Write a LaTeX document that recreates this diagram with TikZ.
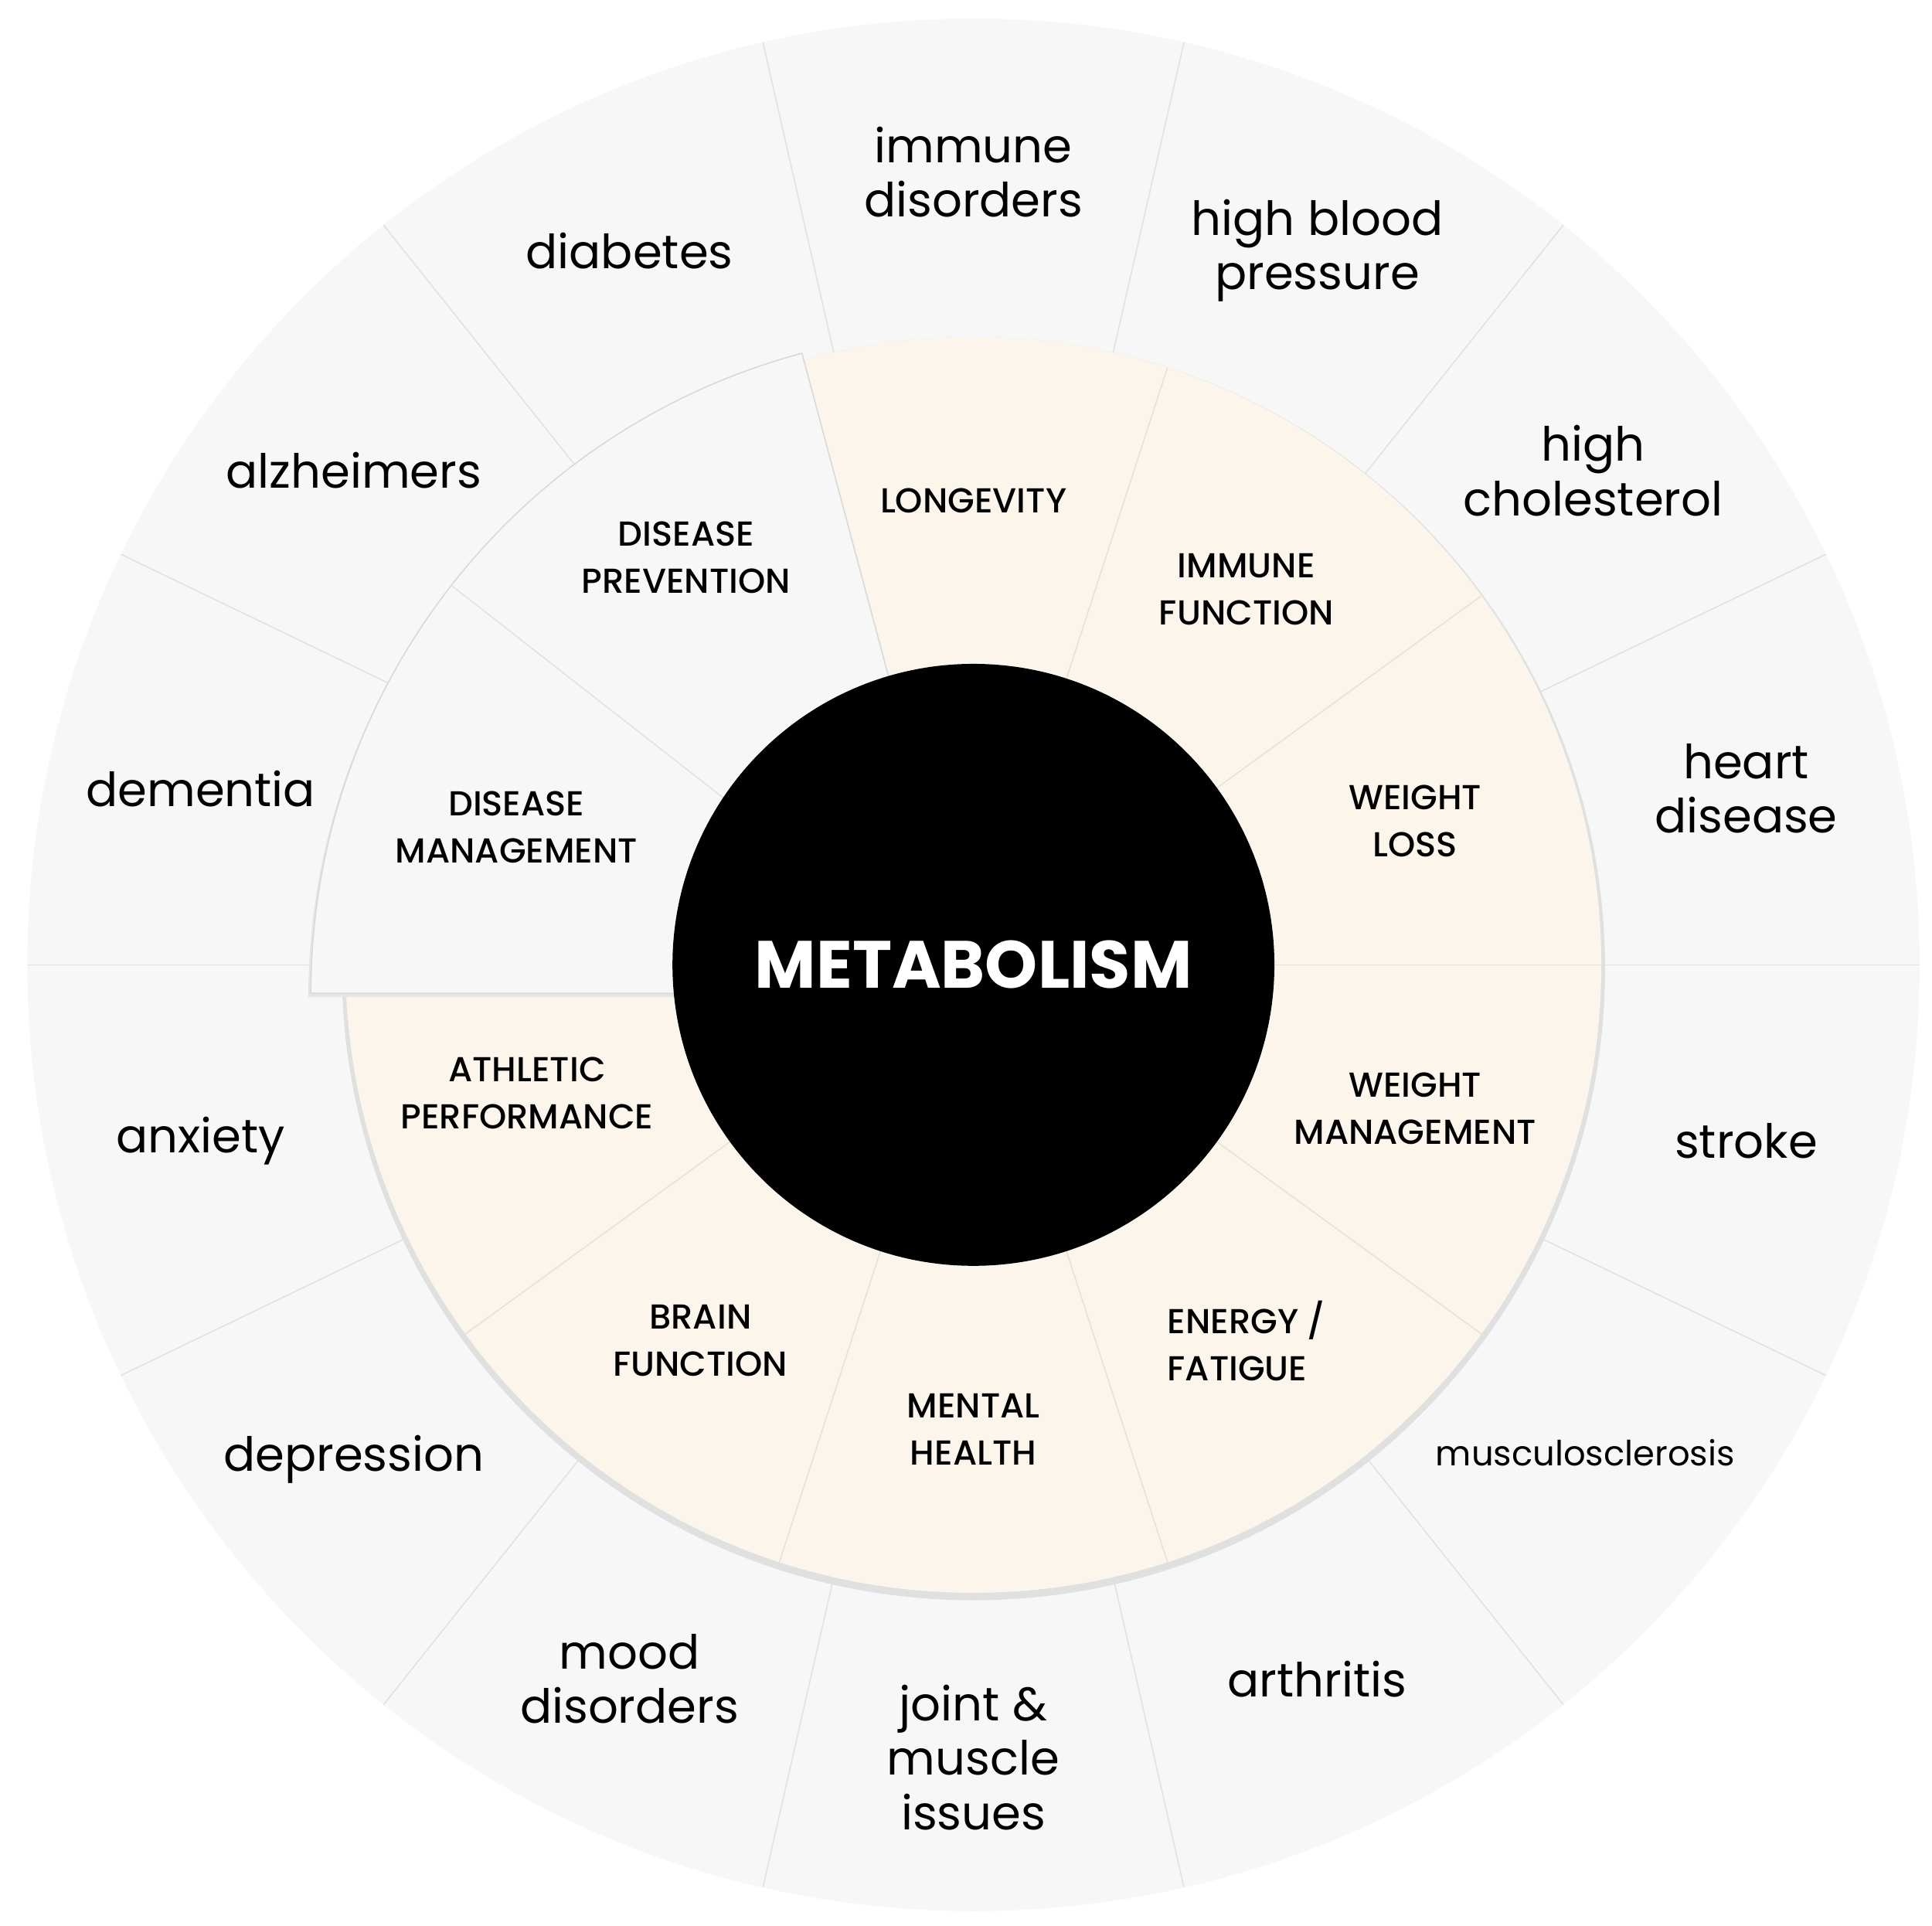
\documentclass[tikz,border=0pt]{standalone}
\usetikzlibrary{calc}
\usepackage{fontspec}
\setmainfont{Poppins}
\newfontfamily\popmed{Poppins Medium}
\newfontfamily\popbold{Poppins Bold}
\definecolor{outerfill}{HTML}{F7F7F7}
\definecolor{sepline}{HTML}{E2E2E2}
\definecolor{cream}{HTML}{FCF5EC}
\tikzset{
  outerlbl/.style={align=center,font=\fontsize{19}{22}\selectfont,text=black},
  innerlbl/.style={align=center,font=\popmed\fontsize{14}{19}\selectfont,text=black},
  sep/.style={draw=sepline,line width=0.5pt}
}
\begin{document}
\begin{tikzpicture}[x=0.5pt,y=0.5pt]
\useasboundingbox (0,0) rectangle (1560,1555);
\coordinate (C) at (786,776);
\coordinate (W) at (786,753);
% outer ring
\fill[outerfill] (C) circle[radius=764];
\foreach \i in {0,...,13}{
  \draw[sep] ($(C)+({\i*360/14}:507)$) -- ($(C)+({\i*360/14}:764)$);
}
% middle ring with shadow
\fill[black!12] ($(C)+(0,-3)$) circle[radius=510];
\fill[cream] (C) circle[radius=507];
\foreach \a in {0,36,72,108,144,180,216,252,288,324}{
  \draw[sep] ($(C)+(\a:243)$) -- ($(C)+(\a:507)$);
}
% popped wedge
\fill[black!10] ($(W)+(-2,-3)$) -- ++(180:535) arc[start angle=180,end angle=105,radius=535] -- cycle;
\fill[outerfill,draw=black!15,line width=0.5pt] (W) -- ++(180:535) arc[start angle=180,end angle=105,radius=535] -- cycle;
\draw[sep] ($(W)+(142:243)$) -- ($(W)+(142:535)$);
% centre
\node[circle,fill=black,minimum size=486*0.5pt,inner sep=0pt,text=white,font=\popbold\fontsize{27}{30}\selectfont] (centre) at (C) {METABOLISM};
% inner labels
\node[innerlbl] (longevity) at ($(C)+(90:375)$) {LONGEVITY};
\node[innerlbl] (immune) at ($(C)+(54:375)$) {IMMUNE\\FUNCTION};
\node[innerlbl] (wloss) at ($(C)+(18:375)$) {WEIGHT\\LOSS};
\node[innerlbl] (wmgmt) at ($(C)+(-18:375)$) {WEIGHT\\MANAGEMENT};
\node[innerlbl,align=left] (energy) at ($(C)+(-54:375)$) {ENERGY /\\FATIGUE};
\node[innerlbl] (mental) at ($(C)+(-90:375)$) {MENTAL\\HEALTH};
\node[innerlbl] (brain) at ($(C)+(-126:375)$) {BRAIN\\FUNCTION};
\node[innerlbl] (athletic) at ($(C)+(-164:375)$) {ATHLETIC\\PERFORMANCE};
\node[innerlbl] (dmgmt) at (417,887) {DISEASE\\MANAGEMENT};
\node[innerlbl] (dprev) at (554,1105) {DISEASE\\PREVENTION};
% outer labels
\def\st{25.714}
\node[outerlbl] (o1) at ($(C)+({0.5*\st}:640)$) {heart\\disease};
\node[outerlbl] (o2) at ($(C)+({1.5*\st}:640)$) {high\\cholesterol};
\node[outerlbl] (o3) at ($(C)+({2.5*\st}:640)$) {high blood\\pressure};
\node[outerlbl] (o4) at ($(C)+({3.5*\st}:640)$) {immune\\disorders};
\node[outerlbl] (o5) at ($(C)+({4.5*\st}:640)$) {diabetes};
\node[outerlbl] (o6) at ($(C)+({5.5*\st}:640)$) {alzheimers};
\node[outerlbl] (o7) at ($(C)+({6.5*\st}:640)$) {dementia};
\node[outerlbl] (o8) at ($(C)+({7.5*\st}:640)$) {anxiety};
\node[outerlbl] (o9) at ($(C)+({8.5*\st}:640)$) {depression};
\node[outerlbl] (o10) at ($(C)+({9.5*\st}:640)$) {mood\\disorders};
\node[outerlbl] (o11) at ($(C)+({10.5*\st}:640)$) {joint \&\\muscle\\issues};
\node[outerlbl] (o12) at ($(C)+({11.5*\st}:640)$) {arthritis};
\node[outerlbl,font=\fontsize{14}{17}\selectfont] (o13) at ($(C)+({12.5*\st}:632)$) {musculosclerosis};
\node[outerlbl] (o14) at ($(C)+({13.5*\st}:640)$) {stroke};
\end{tikzpicture}
\end{document}
